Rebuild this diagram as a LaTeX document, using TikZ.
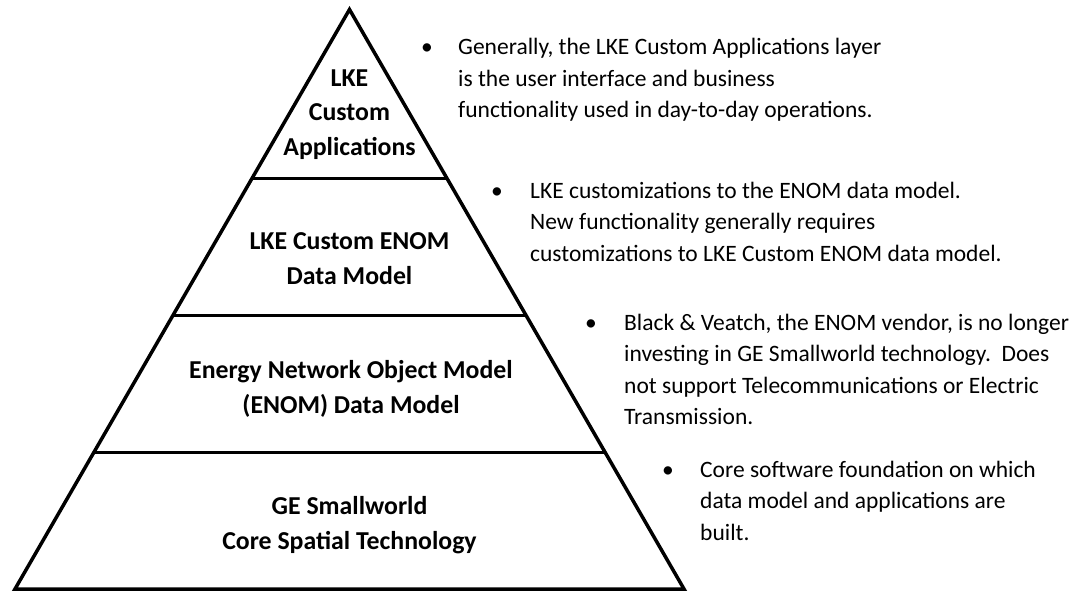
\documentclass[tikz,border=0pt]{standalone}
\usepackage{fontspec}
\setmainfont{Carlito}
\usetikzlibrary{calc}

\begin{document}
\begin{tikzpicture}[
    x=1pt, y=-1pt,
    tier/.style={
        anchor=base,
        align=center,
        inner sep=0pt,
        font=\fontsize{25.8}{35}\selectfont\bfseries
    },
    note/.style={
        anchor=base west,
        align=left,
        inner sep=0pt,
        font=\fontsize{23.5}{31.5}\selectfont
    },
    dot/.style={
        anchor=base,
        inner sep=0pt,
        font=\fontsize{23.5}{31.5}\selectfont
    },
    edge/.style={
        line width=3.5pt,
        line join=miter
    }
]
\useasboundingbox (0,0) rectangle (1079,591);

% pyramid outline
\coordinate (top) at (349.5,9.5);
\coordinate (bl) at (15,589);
\coordinate (br) at (684,589);

\draw[edge] (top)--(bl)--(br)--cycle;

% layer boundaries
\foreach \t in {0.2908,0.5289,0.7653}{
    \draw[line width=3pt] ($(top)!\t!(bl)$)--($(top)!\t!(br)$);
}

% layer labels (placed at the last baseline)
\node[tier] (apps) at (349.5,156) {LKE\\Custom\\Applications};
\node[tier] (custom) at (349.5,284) {LKE Custom ENOM\\Data Model};
\node[tier] (enom) at (351,413) {Energy Network Object Model\\(ENOM) Data Model};
\node[tier] (core) at (349.5,549) {GE Smallworld\\Core Spatial Technology};

% notes
\node[dot] (d1) at (427,55) {•};
\node[note] (n1) at (458,118)
{Generally, the LKE Custom Applications layer\\
is the user interface and business\\
functionality used in day-to-day operations.};

\node[dot] (d2) at (497,198) {•};
\node[note] (n2) at (530,261)
{LKE customizations to the ENOM data model.\\
New functionality generally requires\\
customizations to LKE Custom ENOM data model.};

\node[dot] (d3) at (591,330) {•};
\node[note] (n3) at (624,424.5)
{Black \& Veatch, the ENOM vendor, is no longer\\
investing in GE Smallworld technology.\ \ Does\\
not support Telecommunications or Electric\\
Transmission.};

\node[dot] (d4) at (668,477) {•};
\node[note] (n4) at (700,540)
{Core software foundation on which\\
data model and applications are\\
built.};

\end{tikzpicture}
\end{document}
